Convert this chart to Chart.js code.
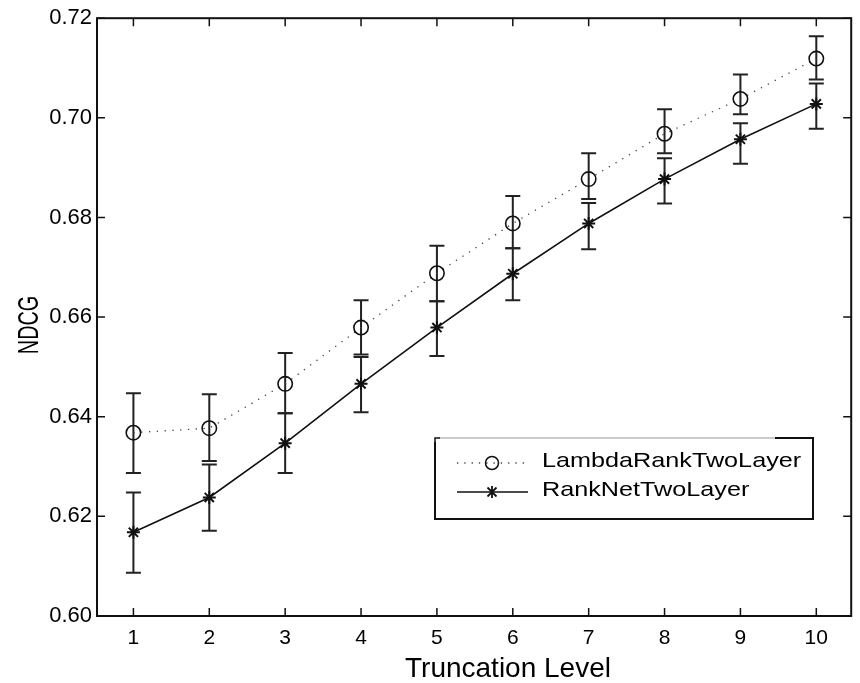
<!DOCTYPE html>
<html lang="en">
<head>
  <meta charset="UTF-8">
  <title>NDCG vs Truncation Level</title>
  <script src="https://cdn.jsdelivr.net/npm/chart.js"></script>
  <style>
    body { margin: 0; background: #fff; }
    #wrap { width: 860px; height: 683px; }
  </style>
</head>
<body>
  <div id="wrap"><canvas id="ndcgChart"></canvas></div>

  <script>
    // values
    const levels = [1, 2, 3, 4, 5, 6, 7, 8, 9, 10];
    const seriesNames = ['LambdaRankTwoLayer', 'RankNetTwoLayer'];

    const lambdaMean = [0.6368, 0.6377, 0.6466, 0.6579, 0.6688, 0.6788, 0.6877, 0.6968, 0.7038, 0.7119];
    const lambdaHigh = [0.6447, 0.6445, 0.6528, 0.6634, 0.6743, 0.6843, 0.6929, 0.7017, 0.7087, 0.7164];
    const lambdaLow  = [0.6287, 0.6311, 0.6407, 0.6525, 0.6632, 0.6738, 0.6837, 0.6929, 0.7007, 0.7077];

    const ranknetMean = [0.6168, 0.6238, 0.6347, 0.6466, 0.6579, 0.6687, 0.6788, 0.6877, 0.6957, 0.7028];
    const ranknetHigh = [0.6248, 0.6304, 0.6407, 0.6520, 0.6632, 0.6738, 0.6829, 0.6919, 0.6989, 0.7069];
    const ranknetLow  = [0.6087, 0.6171, 0.6287, 0.6409, 0.6522, 0.6634, 0.6736, 0.6828, 0.6908, 0.6978];

    const yTicks = [0.60, 0.62, 0.64, 0.66, 0.68, 0.70, 0.72];

    const FONT = '"Liberation Sans", Arial, sans-serif';

    // draw text with separate x / y stretch
    function stretchedText(ctx, text, x, y, size, sx, align) {
      ctx.save();
      ctx.translate(x, y);
      ctx.scale(sx, 1);
      ctx.font = size + 'px ' + FONT;
      ctx.textAlign = align || 'left';
      ctx.textBaseline = 'alphabetic';
      ctx.fillStyle = '#000';
      ctx.fillText(text, 0, 0);
      ctx.restore();
    }

    const errorBars = {
      id: 'errorBars',
      beforeDatasetsDraw(chart) {
        const ctx = chart.ctx;
        const xs = chart.scales.x, ys = chart.scales.y;
        const sets = [[lambdaLow, lambdaHigh], [ranknetLow, ranknetHigh]];
        ctx.save();
        ctx.strokeStyle = '#222';
        ctx.lineWidth = 2;
        sets.forEach(([lo, hi]) => {
          levels.forEach((lv, i) => {
            const px = xs.getPixelForValue(lv);
            const p1 = ys.getPixelForValue(lo[i]);
            const p2 = ys.getPixelForValue(hi[i]);
            ctx.beginPath();
            ctx.moveTo(px, p1); ctx.lineTo(px, p2);
            ctx.moveTo(px - 7.5, p1); ctx.lineTo(px + 7.5, p1);
            ctx.moveTo(px - 7.5, p2); ctx.lineTo(px + 7.5, p2);
            ctx.stroke();
          });
        });
        ctx.restore();
      }
    };

    const frameAndDecor = {
      id: 'frameAndDecor',
      afterDraw(chart) {
        const ctx = chart.ctx;
        const a = chart.chartArea;
        const xs = chart.scales.x, ys = chart.scales.y;
        ctx.save();
        // box
        ctx.strokeStyle = '#111';
        ctx.lineWidth = 2;
        ctx.strokeRect(a.left, a.top, a.right - a.left, a.bottom - a.top);
        // inward ticks on all sides
        ctx.lineWidth = 1.5;
        ctx.beginPath();
        levels.forEach(lv => {
          const px = xs.getPixelForValue(lv);
          ctx.moveTo(px, a.bottom); ctx.lineTo(px, a.bottom - 8);
          ctx.moveTo(px, a.top); ctx.lineTo(px, a.top + 8);
        });
        yTicks.forEach(v => {
          const py = ys.getPixelForValue(v);
          ctx.moveTo(a.left, py); ctx.lineTo(a.left + 8, py);
          ctx.moveTo(a.right, py); ctx.lineTo(a.right - 8, py);
        });
        ctx.stroke();

        // axis titles
        stretchedText(ctx, 'Truncation Level', 508, 677, 28, 1, 'center');
        ctx.save();
        ctx.translate(38, 325);
        ctx.rotate(-Math.PI / 2);
        stretchedText(ctx, 'NDCG', 0, 0, 30, 0.66, 'center');
        ctx.restore();

        // legend box
        const bx = 435, by = 438, bw = 378, bh = 81;
        ctx.fillStyle = '#fff';
        ctx.fillRect(bx, by, bw, bh);
        ctx.strokeStyle = '#111';
        ctx.lineWidth = 2;
        ctx.beginPath();
        ctx.moveTo(bx, by + 4); ctx.lineTo(bx, by + bh); ctx.lineTo(bx + bw, by + bh);
        ctx.lineTo(bx + bw, by); ctx.lineTo(bx + 340, by);
        ctx.stroke();
        ctx.strokeStyle = '#bbb';
        ctx.lineWidth = 1.5;
        ctx.beginPath();
        ctx.moveTo(bx + 4, by); ctx.lineTo(bx + 340, by);
        ctx.stroke();
        ctx.strokeStyle = '#111';
        ctx.beginPath();
        ctx.moveTo(bx, by + 4); ctx.lineTo(bx, by); ctx.lineTo(bx + 5, by);
        ctx.stroke();

        // legend row 1: dotted + circle
        const y1 = 463, y2 = 492, lx0 = 457, lx1 = 528, mx = 492;
        ctx.strokeStyle = '#444';
        ctx.lineWidth = 1.3;
        ctx.setLineDash([1.3, 6]);
        ctx.beginPath(); ctx.moveTo(lx0, y1); ctx.lineTo(lx1, y1); ctx.stroke();
        ctx.setLineDash([]);
        ctx.strokeStyle = '#111';
        ctx.lineWidth = 1.5;
        ctx.beginPath(); ctx.arc(mx, y1, 6.5, 0, Math.PI * 2); ctx.stroke();
        // legend row 2: solid + star
        ctx.beginPath(); ctx.moveTo(lx0, y2); ctx.lineTo(lx1, y2); ctx.stroke();
        ctx.lineWidth = 1.8;
        ctx.beginPath();
        ctx.moveTo(mx, y2 - 6); ctx.lineTo(mx, y2 + 6);
        ctx.moveTo(mx - 4.5, y2 - 4.5); ctx.lineTo(mx + 4.5, y2 + 4.5);
        ctx.moveTo(mx - 4.5, y2 + 4.5); ctx.lineTo(mx + 4.5, y2 - 4.5);
        ctx.stroke();

        stretchedText(ctx, seriesNames[0], 542, 467, 21, 1.2);
        stretchedText(ctx, seriesNames[1], 542, 496, 21, 1.2);
        ctx.restore();
      }
    };

    new Chart(document.getElementById('ndcgChart'), {
      type: 'line',
      data: {
        datasets: [
          {
            label: seriesNames[0],
            data: levels.map((lv, i) => ({ x: lv, y: lambdaMean[i] })),
            borderColor: '#444',
            borderWidth: 1.3,
            borderDash: [1.3, 6.5],
            pointStyle: 'circle',
            pointRadius: 7.2,
            pointBorderWidth: 1.6,
            pointBorderColor: '#111',
            pointBackgroundColor: 'rgba(0,0,0,0)',
            tension: 0
          },
          {
            label: seriesNames[1],
            data: levels.map((lv, i) => ({ x: lv, y: ranknetMean[i] })),
            borderColor: '#111',
            borderWidth: 1.6,
            pointStyle: 'star',
            pointRadius: 6.5,
            pointBorderWidth: 2,
            pointBorderColor: '#111',
            pointBackgroundColor: '#111',
            tension: 0
          }
        ]
      },
      options: {
        responsive: true,
        maintainAspectRatio: false,
        animation: false,
        events: [],
        layout: { padding: { top: 14, right: 8, left: 0, bottom: 0 } },
        scales: {
          x: {
            type: 'linear',
            min: 0.52,
            max: 10.46,
            afterBuildTicks: s => { s.ticks = levels.map(v => ({ value: v })); },
            afterFit: s => { s.height = 67; },
            grid: { display: false, drawTicks: false },
            border: { display: false },
            ticks: {
              padding: 10,
              color: '#000',
              font: { family: FONT, size: 21 }
            }
          },
          y: {
            min: 0.60,
            max: 0.72,
            afterBuildTicks: s => { s.ticks = yTicks.map(v => ({ value: v })); },
            afterFit: s => { s.width = 97; },
            grid: { display: false, drawTicks: false },
            border: { display: false },
            ticks: {
              padding: 5,
              color: '#000',
              font: { family: FONT, size: 22 },
              callback: v => v.toFixed(2)
            }
          }
        },
        plugins: {
          legend: { display: false },
          tooltip: { enabled: false }
        }
      },
      plugins: [errorBars, frameAndDecor]
    });
  </script>
</body>
</html>
